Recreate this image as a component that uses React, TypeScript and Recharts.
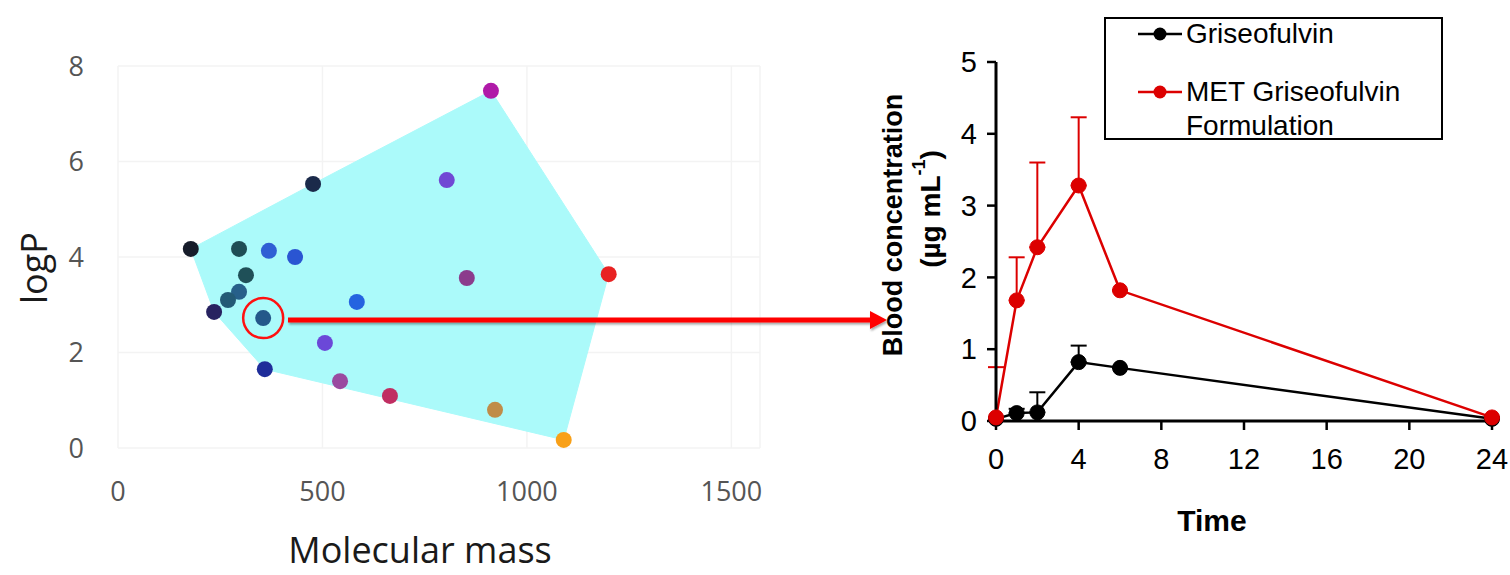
import React from 'react';
import {
  ScatterChart, Scatter, XAxis, YAxis, CartesianGrid, Cell, ReferenceDot, Polygon, Label,
  LineChart, Line, ErrorBar, Legend,
} from 'recharts';

// left panel: chemical space (molecular mass vs logP)
const massValues = [178, 477, 296, 369, 433, 313, 296, 269, 235, 355, 584, 506, 359, 543, 665, 922, 1090, 1200, 853, 804, 912];
const logPValues = [4.17, 5.53, 4.17, 4.13, 4.0, 3.62, 3.27, 3.1, 2.85, 2.72, 3.06, 2.2, 1.65, 1.4, 1.09, 0.8, 0.17, 3.64, 3.56, 5.61, 7.48];
const pointColors = [
  '#161c2a', '#1b2a4a', '#1f4d55', '#2f5fd4', '#2a55d2', '#1f5058', '#27608a', '#235a75', '#272260', '#24588a', '#2563e0',
  '#6b48d8', '#1f2d9a', '#9a4aa0', '#c02e62', '#c08c48', '#f8a018', '#e82222', '#8b3c8c', '#7048d4', '#b01aa8',
];
const massTicks = [0, 500, 1000, 1500];
const logPTicks = [0, 2, 4, 6, 8];
const highlightIndex = 9;

// right panel: blood concentration over time
const timePoints = [0, 1, 2, 4, 6, 24];
const griseofulvin = [0.03, 0.11, 0.12, 0.82, 0.74, 0.03];
const griseofulvinErr = [0, 0.06, 0.28, 0.23, 0, 0];
const metFormulation = [0.05, 1.68, 2.42, 3.28, 1.82, 0.05];
const metFormulationErr = [0.7, 0.6, 1.18, 0.95, 0, 0];
const timeTicks = [0, 4, 8, 12, 16, 20, 24];
const concTicks = [0, 1, 2, 3, 4, 5];

type Pt = { mass: number; logP: number };

const points: Pt[] = massValues.map((m, i) => ({ mass: m, logP: logPValues[i] }));

// convex hull (monotone chain) of the compounds -> shaded region
const convexHull = (pts: Pt[]) => {
  const s = [...pts].sort((a, b) => a.mass - b.mass || a.logP - b.logP);
  const cross = (o: Pt, a: Pt, b: Pt) => (a.mass - o.mass) * (b.logP - o.logP) - (a.logP - o.logP) * (b.mass - o.mass);
  const lower: Pt[] = [];
  for (const p of s) {
    while (lower.length >= 2 && cross(lower[lower.length - 2], lower[lower.length - 1], p) <= 0) lower.pop();
    lower.push(p);
  }
  const upper: Pt[] = [];
  for (const p of [...s].reverse()) {
    while (upper.length >= 2 && cross(upper[upper.length - 2], upper[upper.length - 1], p) <= 0) upper.pop();
    upper.push(p);
  }
  return lower.slice(0, -1).concat(upper.slice(0, -1));
};

const hull = convexHull(points);

const pkData = timePoints.map((t, i) => ({
  time: t,
  griseofulvin: griseofulvin[i],
  griseofulvinErr: [0, griseofulvinErr[i]],
  met: metFormulation[i],
  metErr: [0, metFormulationErr[i]],
}));

const LEFT_FONT = '"Open Sans", "Noto Sans", sans-serif';
const RIGHT_FONT = 'Arial, "Liberation Sans", sans-serif';

const LegendBox = ({ payload }: any) => {
  const items = payload || [];
  return (
    <div style={{ position: 'relative', width: 339, height: 123, border: '2px solid #000', boxSizing: 'border-box', fontFamily: RIGHT_FONT, fontSize: 28, color: '#000' }}>
      {items.map((item: any, i: number) => (
        <div key={i} style={{ position: 'absolute', left: 32, top: i === 0 ? -2 : 56, display: 'flex', alignItems: 'flex-start' }}>
          <svg width={46} height={34}>
            <line x1={0} y1={17} x2={44} y2={17} stroke={item.color} strokeWidth={2.5} />
            <circle cx={22} cy={17} r={6.5} fill={item.color} />
          </svg>
          <span style={{ lineHeight: '34px', width: 240, marginLeft: 2 }}>{item.value}</span>
        </div>
      ))}
    </div>
  );
};

const Dot = (p: any) => <circle cx={p.cx} cy={p.cy} r={8} fill={p.fill} />;

export default function App() {
  return (
    <div style={{ position: 'absolute', left: 0, top: 0, width: 1510, height: 575, background: '#fff', overflow: 'hidden' }}>
      <div style={{ position: 'absolute', left: 0, top: 0 }}>
        <ScatterChart width={800} height={575} margin={{ top: 66, right: 40, bottom: 17, left: 18 }}>
          <CartesianGrid stroke="#f3f3f3" strokeWidth={1.5} />
          <XAxis
            type="number"
            dataKey="mass"
            domain={[0, 1570]}
            ticks={massTicks}
            axisLine={false}
            tickLine={false}
            tickSize={0}
            tickMargin={34}
            height={110}
            tick={{ fill: '#555', fontSize: 27, fontFamily: LEFT_FONT }}
          >
            <Label
              content={() => (
                <text x={420} y={549} textAnchor="middle" dominantBaseline="central" fontSize={36} fontFamily={LEFT_FONT} fill="#1a1a1a">
                  Molecular mass
                </text>
              )}
            />
          </XAxis>
          <YAxis
            type="number"
            dataKey="logP"
            domain={[0, 8]}
            ticks={logPTicks}
            axisLine={false}
            tickLine={false}
            tickSize={0}
            tickMargin={34}
            width={100}
            tick={{ fill: '#555', fontSize: 27, fontFamily: LEFT_FONT }}
          >
            <Label
              content={() => (
                <text x={33} y={268} transform="rotate(-90 33 268)" textAnchor="middle" dominantBaseline="central" fontSize={36} fontFamily={LEFT_FONT} fill="#1a1a1a">
                  logP
                </text>
              )}
            />
          </YAxis>
          <Scatter
            data={hull}
            isAnimationActive={false}
            legendType="none"
            lineType="joint"
            line={(p: any) => <Polygon points={p.points} fill="#abfafa" stroke="#abfafa" strokeWidth={1} />}
            shape={() => <g />}
          />
          <Scatter data={points} isAnimationActive={false} shape={Dot}>
            {points.map((_, i) => (
              <Cell key={i} fill={pointColors[i]} />
            ))}
          </Scatter>
          <ReferenceDot
            x={massValues[highlightIndex]}
            y={logPValues[highlightIndex]}
            r={20}
            fill="none"
            stroke="#ff1010"
            strokeWidth={2.5}
          />
        </ScatterChart>
      </div>

      <div style={{ position: 'absolute', left: 840, top: 0 }}>
        <LineChart width={670} height={575} data={pkData} margin={{ top: 62, right: 18, bottom: 34, left: 96 }}>
          <XAxis
            type="number"
            dataKey="time"
            domain={[0, 24]}
            ticks={timeTicks}
            height={120}
            axisLine={{ stroke: '#000', strokeWidth: 3 }}
            tickLine={{ stroke: '#000', strokeWidth: 2.5 }}
            tickSize={9}
            tickMargin={18}
            tick={{ fill: '#000', fontSize: 29, fontFamily: RIGHT_FONT }}
          >
            <Label
              content={() => (
                <text x={372} y={520} textAnchor="middle" dominantBaseline="central" fontSize={30} fontWeight="bold" fontFamily={RIGHT_FONT} fill="#000">
                  Time
                </text>
              )}
            />
          </XAxis>
          <YAxis
            type="number"
            domain={[0, 5]}
            ticks={concTicks}
            width={60}
            axisLine={{ stroke: '#000', strokeWidth: 3 }}
            tickLine={{ stroke: '#000', strokeWidth: 2.5 }}
            tickSize={9}
            tickMargin={10}
            tick={{ fill: '#000', fontSize: 29, fontFamily: RIGHT_FONT }}
          >
            <Label
              content={() => (
                <g fontFamily={RIGHT_FONT} fontWeight="bold" fill="#000">
                  <text x={53} y={225} transform="rotate(-90 53 225)" textAnchor="middle" dominantBaseline="central" fontSize={27}>
                    Blood concentration
                  </text>
                  <text x={90} y={209} transform="rotate(-90 90 209)" textAnchor="middle" dominantBaseline="central" fontSize={28}>
                    (µg mL<tspan fontSize={18} dy={-11}>-1</tspan><tspan dy={11}>)</tspan>
                  </text>
                </g>
              )}
            />
          </YAxis>
          <Legend
            layout="vertical"
            align="center"
            verticalAlign="middle"
            content={<LegendBox />}
            wrapperStyle={{ position: 'absolute', left: 264, top: 17, width: 339, height: 123 }}
          />
          <Line
            name="Griseofulvin"
            dataKey="griseofulvin"
            stroke="#000"
            strokeWidth={2.5}
            dot={{ r: 7.5, fill: '#000', stroke: '#000', strokeWidth: 1 }}
            isAnimationActive={false}
          >
            <ErrorBar dataKey="griseofulvinErr" direction="y" width={8} stroke="#000" strokeWidth={2} isAnimationActive={false} />
          </Line>
          <Line
            name="MET Griseofulvin Formulation"
            dataKey="met"
            stroke="#dc0000"
            strokeWidth={2.5}
            dot={{ r: 7.5, fill: '#dc0000', stroke: '#dc0000', strokeWidth: 1 }}
            isAnimationActive={false}
          >
            <ErrorBar dataKey="metErr" direction="y" width={8} stroke="#dc0000" strokeWidth={2} isAnimationActive={false} />
          </Line>
        </LineChart>
      </div>

      {/* arrow linking the circled compound to the PK plot */}
      <svg width={1510} height={575} style={{ position: 'absolute', left: 0, top: 0, pointerEvents: 'none' }}>
        <defs>
          <filter id="arrowShadow" x="-5%" y="-50%" width="110%" height="300%">
            <feDropShadow dx={1} dy={2} stdDeviation={1.2} floodColor="#000" floodOpacity={0.35} />
          </filter>
        </defs>
        <g filter="url(#arrowShadow)" fill="#ff0000">
          <rect x={288} y={317.5} width={584} height={5} />
          <polygon points="870,311 887,320 870,329" />
        </g>
      </svg>
    </div>
  );
}
